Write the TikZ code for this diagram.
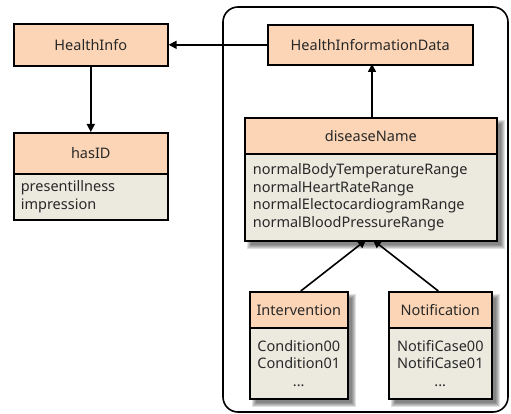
\documentclass[tikz,border=0pt]{standalone}
\usepackage{fontspec}
\setmainfont{Noto Sans}
\usetikzlibrary{arrows.meta}
\definecolor{hdrcol}{RGB}{251,213,181}
\definecolor{bdycol}{RGB}{236,233,223}
\definecolor{txtcol}{RGB}{40,40,40}
\tikzset{
  box/.style={draw=black, line width=1.6pt, anchor=north west, inner sep=0pt,
    text=txtcol, font=\fontsize{14.5}{17.5}\selectfont},
  hdr/.style={box, fill=hdrcol},
  bdy/.style={box, fill=bdycol, align=left},
  conn/.style={line width=1.6pt, -{Triangle[length=8pt,width=8pt]}},
}
\newcommand{\shbox}[4]{%
  \foreach \k in {0,1,2,3,4}{%
    \fill[black,opacity=0.12] (#1+3+\k,#2+3+\k) rectangle (#3+9-\k,#4+9-\k);}%
}
\begin{document}
\begin{tikzpicture}[x=1pt,y=-1pt]
\useasboundingbox (0,0) rectangle (511,414);
% container
\draw[line width=1.6pt, rounded corners=15pt] (223,7) rectangle (508,412);
% shadows
\shbox{244}{117}{496}{240}
\shbox{249}{291}{347}{398}
\shbox{388}{291}{491}{398}
% left boxes
\node[hdr, minimum width=154pt, minimum height=42pt] (hi) at (13,23) {HealthInfo};
\node[hdr, minimum width=154pt, minimum height=41pt] (hid) at (13,132) {hasID};
\node[bdy, minimum width=154pt, minimum height=46pt, text width=140pt] (hidb) at (13,173) {presentillness\\impression};
% right boxes
\node[hdr, minimum width=205pt, minimum height=40pt] (hdata) at (267,24) {HealthInformationData};
\node[hdr, minimum width=252pt, minimum height=36pt] (dn) at (244,117) {diseaseName};
\node[bdy, minimum width=252pt, minimum height=87pt, text width=236pt] (dnb) at (244,153) {normalBodyTemperatureRange\\normalHeartRateRange\\normalElectocardiogramRange\\normalBloodPressureRange};
\node[hdr, minimum width=98pt, minimum height=36pt] (iv) at (249,291) {Intervention};
\node[bdy, minimum width=98pt, minimum height=71pt, align=center] (ivb) at (249,327) {Condition00\\Condition01\\...};
\node[hdr, minimum width=103pt, minimum height=36pt] (nt) at (388,291) {Notification};
\node[bdy, minimum width=103pt, minimum height=71pt, align=center] (ntb) at (388,327) {NotifiCase00\\NotifiCase01\\...};
% connectors
\coordinate (u1) at (372,117);
\coordinate (u2) at (372,64);
\draw[conn] (hdata.west) -- (hi.east);
\draw[conn] (hi.south) -- (hid.north);
\draw[conn] (u1) -- (u2);
\coordinate (t1) at (366,240);
\coordinate (t2) at (373,240);
\draw[conn] (iv.north) ++(2,0) -- (t1);
\draw[conn] (nt.north) ++(-2,0) -- (t2);
\end{tikzpicture}
\end{document}
